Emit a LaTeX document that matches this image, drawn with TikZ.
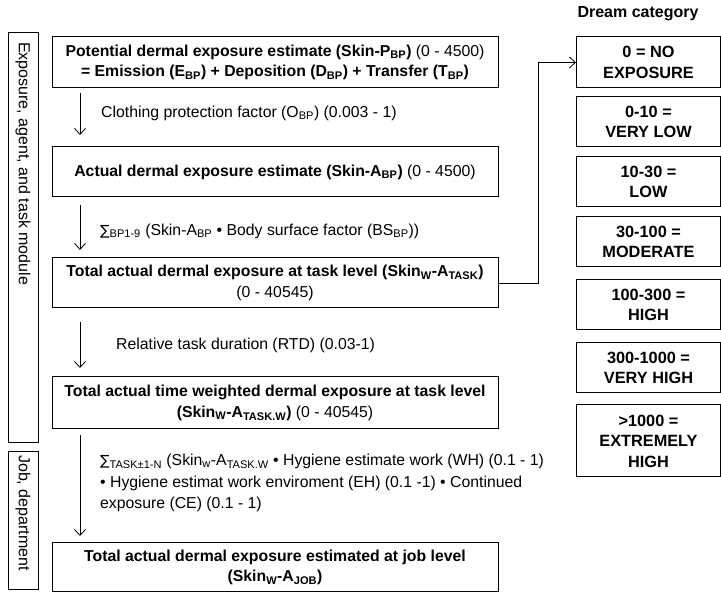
\documentclass[tikz,border=0pt]{standalone}
\usepackage{fontspec}
\setmainfont{Liberation Sans}
\newfontfamily\symfnt{DejaVu Sans}
\usetikzlibrary{arrows.meta}
\newcommand\sbs[1]{\textsubscript{#1}}
\newcommand\sumsym{{\symfnt\fontsize{14}{16}\selectfont ∑}}
\tikzset{
  mainbox/.style={draw, line width=1pt, minimum width=446pt, align=center, inner sep=0pt,
    font=\fontsize{15.8}{20.5}\selectfont},
  catbox/.style={draw, line width=1pt, minimum width=144pt, align=center, inner sep=0pt,
    font=\fontsize{16.3}{20.5}\selectfont\bfseries},
  sidebox/.style={draw, line width=1pt, minimum width=30pt, inner sep=0pt},
  flow/.style={line width=0.8pt, -{Straight Barb[length=6pt,width=11pt]}},
  lbl/.style={anchor=west, align=left, inner sep=0pt, font=\fontsize{15.8}{21.5}\selectfont},
  sidelbl/.style={rotate=-90, anchor=west, inner sep=0pt, font=\fontsize{16}{18}\selectfont}
}
\begin{document}
\begin{tikzpicture}[x=1pt,y=-1pt]
\useasboundingbox (0,0) rectangle (721,593);
% side panels
\node[sidebox, minimum height=410pt] (s1) at (23,238) {};
\node[sidelbl] (s1t) at (23,42) {Exposure, agent, and task module};
\node[sidebox, minimum height=138pt] (s2) at (23,521) {};
\node[sidelbl] (s2t) at (23,455) {Job, department};
% main boxes
\node[mainbox, minimum height=51pt] (b1) at (275,62.5) {\textbf{Potential dermal exposure estimate (Skin-P\sbs{BP})} (0 - 4500)\\ \textbf{= Emission (E\sbs{BP}) + Deposition (D\sbs{BP}) + Transfer (T\sbs{BP})}};
\node[mainbox, minimum height=50pt] (b2) at (275,172) {\textbf{Actual dermal exposure estimate (Skin-A\sbs{BP})} (0 - 4500)};
\node[mainbox, minimum height=50pt] (b3) at (275,283) {\textbf{Total actual dermal exposure at task level (Skin\sbs{W}-A\sbs{TASK})}\\ (0 - 40545)};
\node[mainbox, minimum height=52pt] (b4) at (275,403) {\textbf{Total actual time weighted dermal exposure at task level}\\ \textbf{(Skin\sbs{W}-A\sbs{TASK.W})} (0 - 40545)};
\node[mainbox, minimum height=49pt] (b5) at (275,567.5) {\textbf{Total actual dermal exposure estimated at job level}\\ \textbf{(Skin\sbs{W}-A\sbs{JOB})}};
% arrows between main boxes
\coordinate (a1s) at (80,93); \coordinate (a1e) at (80,135);
\coordinate (a2s) at (80,205); \coordinate (a2e) at (80,250);
\coordinate (a3s) at (80,322); \coordinate (a3e) at (80,368);
\coordinate (a4s) at (80,435); \coordinate (a4e) at (80,536);
\draw[flow] (a1s) -- (a1e);
\draw[flow] (a2s) -- (a2e);
\draw[flow] (a3s) -- (a3e);
\draw[flow] (a4s) -- (a4e);
\node[lbl] (l1) at (101,113) {Clothing protection factor (O\sbs{BP}) (0.003 - 1)};
\node[lbl] (l2) at (100,231) {\sumsym\sbs{BP1-9} (Skin-A\sbs{BP} • Body surface factor (BS\sbs{BP}))};
\node[lbl] (l3) at (116,345) {Relative task duration (RTD) (0.03-1)};
\node[lbl] (l4) at (100,483) {\sumsym\sbs{TASK±1-N} (Skin\sbs{w}-A\sbs{TASK.W} • Hygiene estimate work (WH) (0.1 - 1)\\ • Hygiene estimat work enviroment (EH) (0.1 -1) • Continued\\ exposure (CE) (0.1 - 1)};
% dream category
\node[font=\fontsize{16}{18}\selectfont\bfseries] (dc) at (638,14) {Dream category};
\node[catbox, minimum height=51pt] (c0) at (648.5,62.5) {0 = NO\\EXPOSURE};
\node[catbox, minimum height=50pt] (c1) at (648.5,122) {0-10 =\\VERY LOW};
\node[catbox, minimum height=50pt] (c2) at (648.5,182) {10-30 =\\LOW};
\node[catbox, minimum height=50pt] (c3) at (648.5,242) {30-100 =\\MODERATE};
\node[catbox, minimum height=50pt] (c4) at (648.5,305) {100-300 =\\HIGH};
\node[catbox, minimum height=50pt] (c5) at (648.5,368) {300-1000 =\\VERY HIGH};
\node[catbox, minimum height=72pt] (c6) at (648.5,441) {>1000 =\\EXTREMELY\\HIGH};
% connector
\coordinate (k) at (538,283);
\draw[line width=0.8pt, -{Straight Barb[length=6pt,width=11pt]}] (b3.east) -- (k) |- (c0.west);
\end{tikzpicture}
\end{document}
